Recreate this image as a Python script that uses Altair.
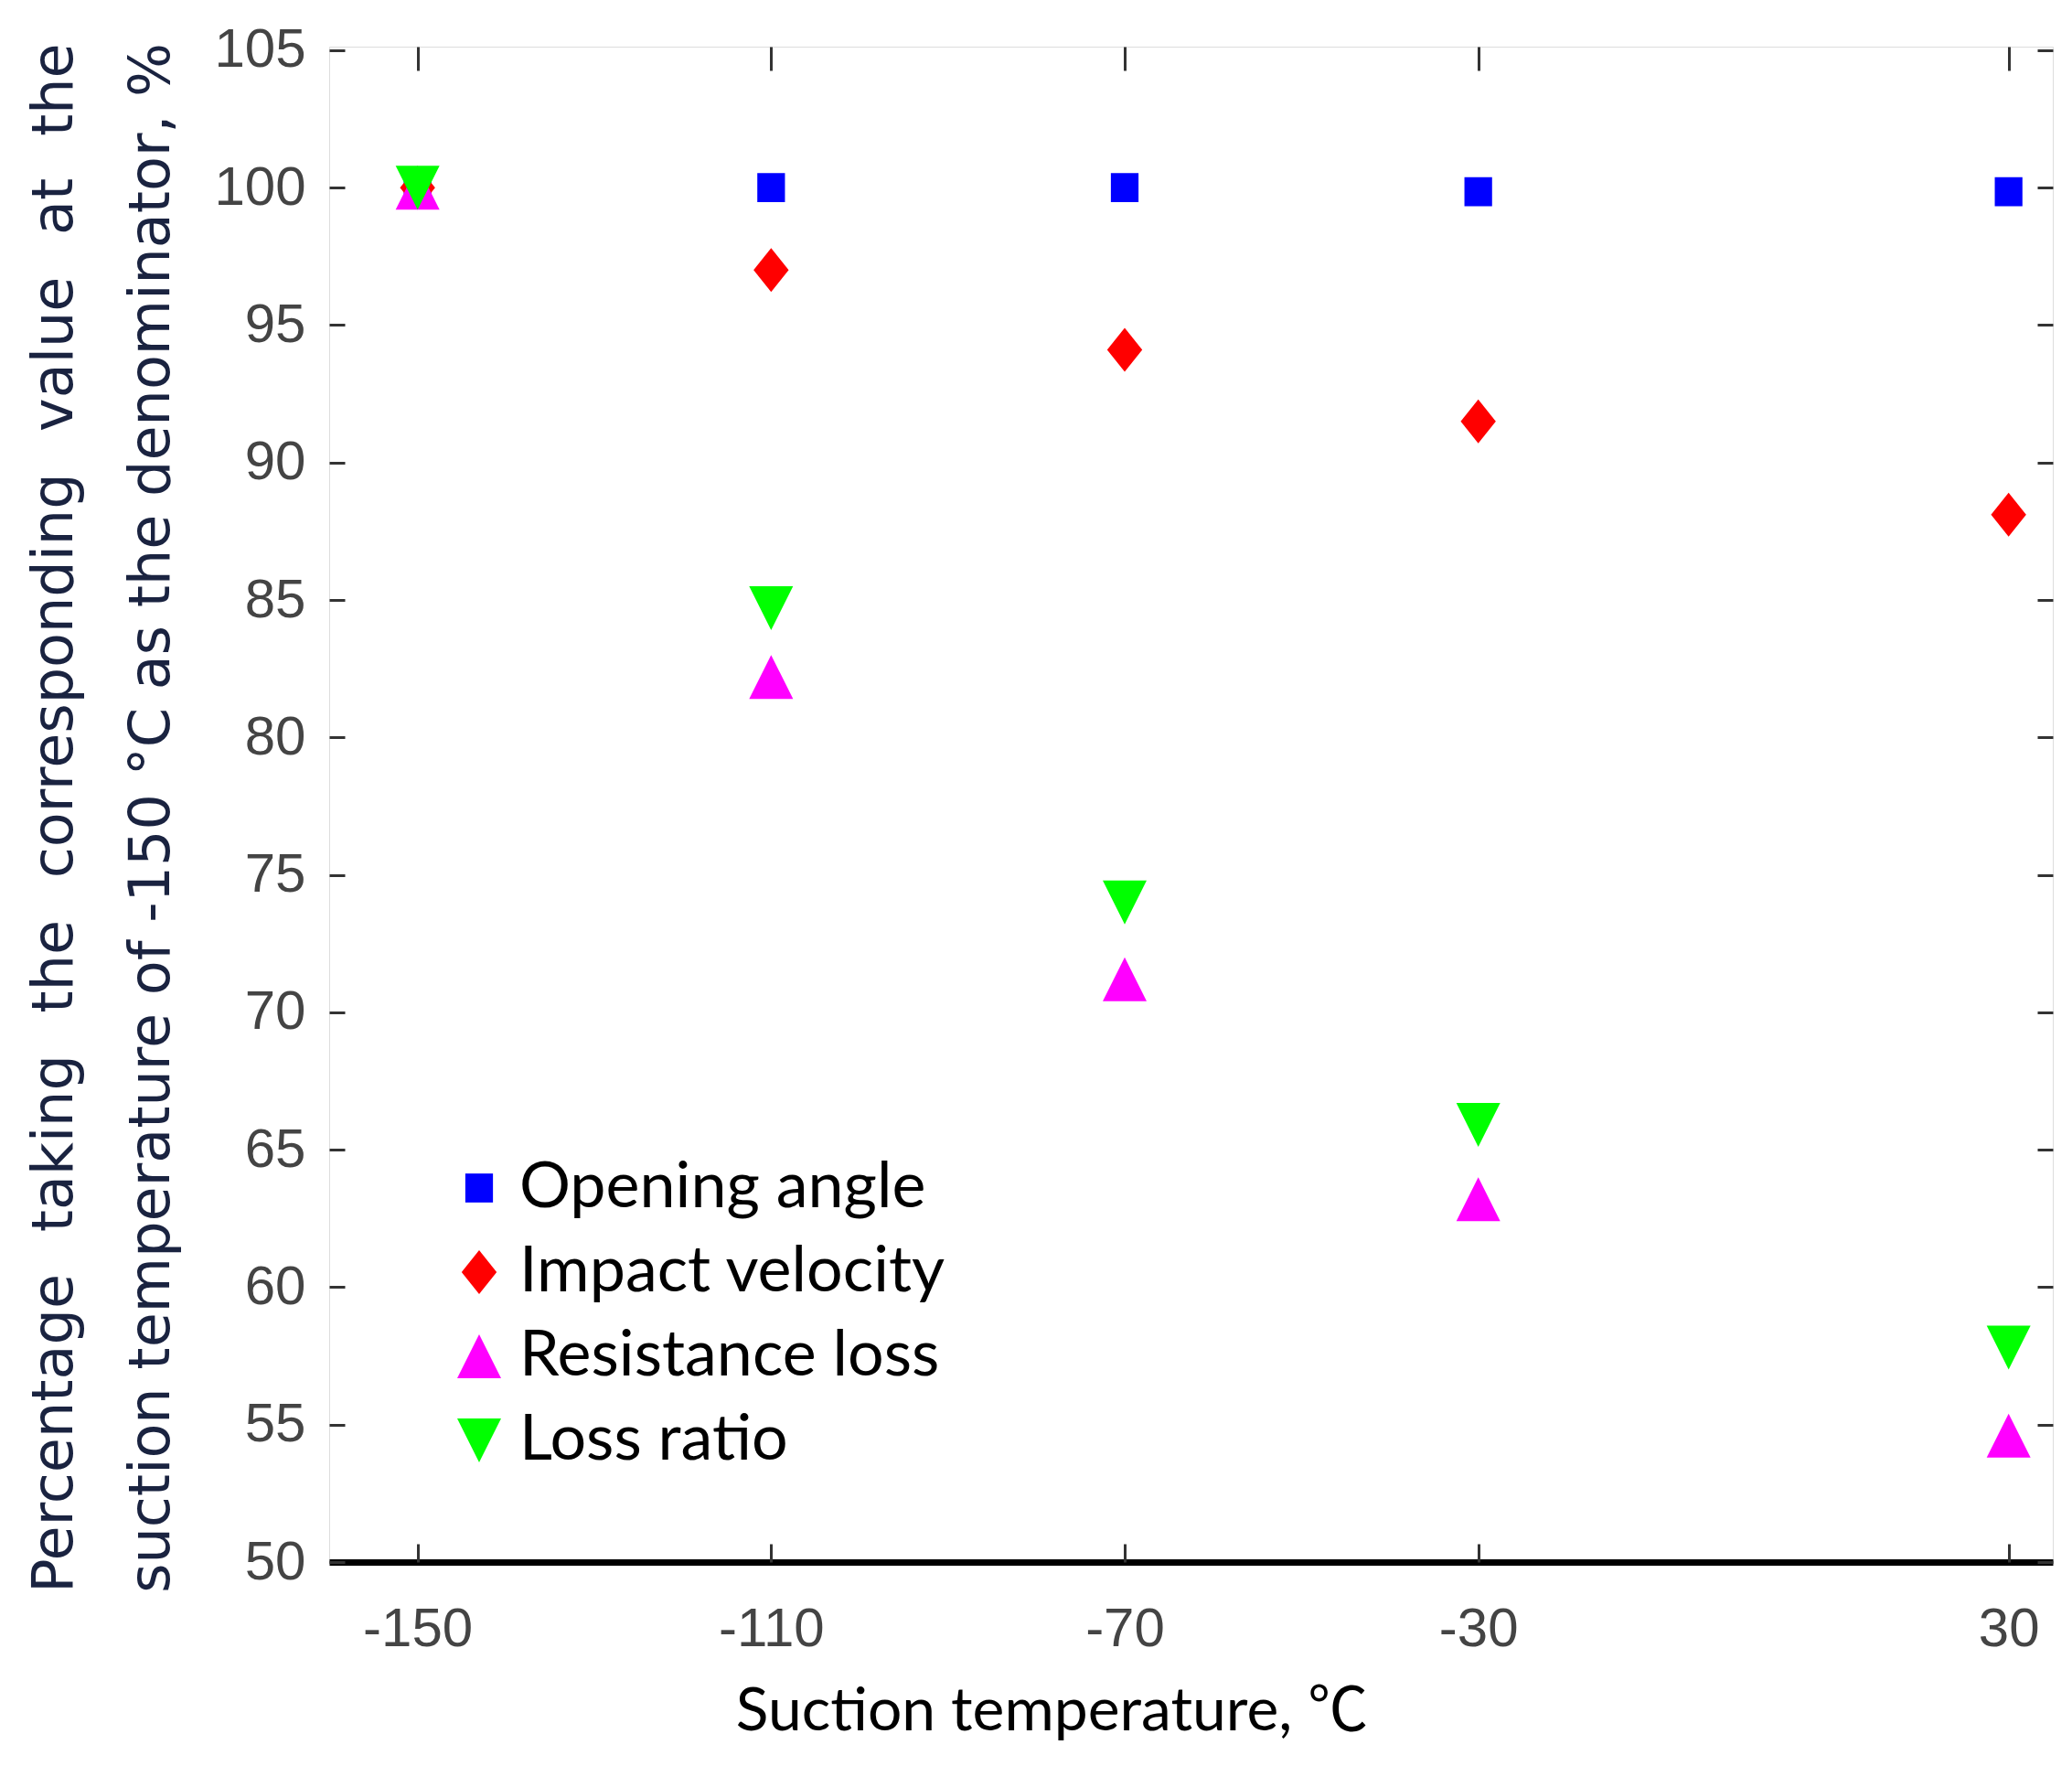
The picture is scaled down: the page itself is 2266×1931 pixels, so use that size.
import altair as alt
import pandas as pd

# ---- data ----
temperatures = [-150, -110, -70, -30, 30]
series_names = ["Opening angle", "Impact velocity", "Resistance loss", "Loss ratio"]
opening_angle = [100.0, 100.0, 100.0, 99.85, 99.85]
impact_velocity = [100.0, 97.0, 94.1, 91.5, 88.1]
resistance_loss = [100.0, 82.2, 71.2, 63.2, 54.6]
loss_ratio = [100.0, 84.7, 74.0, 65.9, 57.8]
x_ticks = [-150, -110, -70, -30, 30]
y_ticks = [50, 55, 60, 65, 70, 75, 80, 85, 90, 95, 100, 105]

rows = []
for name, vals in zip(series_names, [opening_angle, impact_velocity, resistance_loss, loss_ratio]):
    for t, v in zip(temperatures, vals):
        rows.append({"series": name, "temp": t, "pct": v})
df = pd.DataFrame(rows)

W, H = 1885, 1657
gap = "\u00a0\u00a0\u200a"
ytitle1 = gap.join(["Percentage", "taking", "the", "corresponding", "value", "at", "the"])
ytitle2 = "suction temperature of -150 °C as the denominator, %"

colors = ["#0000ff", "#ff0000", "#ff00ff", "#00ff00"]
shapes = [
    "M-0.63,-0.66L0.63,-0.66L0.63,0.66L-0.63,0.66Z",
    "M0,-1L0.8,0L0,1L-0.8,0Z",
    "M0,-1L1,1L-1,1Z",
    "M-1,-1L1,-1L0,1Z",
]

xscale = alt.Scale(domain=[-160, 35], nice=False, zero=False)
yscale = alt.Scale(domain=[50, 105.13], nice=False, zero=False)

legend = alt.Legend(
    title=None, orient="none", legendX=129, legendY=1213,
    labelFont="Lato", labelFontSize=70, labelColor="#000000", labelLimit=1000,
    symbolSize=2304, rowPadding=22, labelOffset=9, padding=0,
    symbolStrokeWidth=0,
)

color_enc = alt.Color("series:N", scale=alt.Scale(domain=series_names, range=colors), legend=legend)
shape_enc = alt.Shape("series:N", scale=alt.Scale(domain=series_names, range=shapes), legend=legend)

TICK_COLOR = "#333333"
LABEL_FONT = "Liberation Sans Narrow, Arial Narrow, Liberation Sans"

# main axes with labels and titles
x_main = alt.Axis(
    orient="bottom", values=x_ticks, ticks=False, tickSize=0, grid=False,
    labelExpr="'' + datum.value", labelFont=LABEL_FONT,
    labelFontSize=60, labelColor="#444444", labelPadding=44, labelBaseline="top",
    domain=True, domainColor="#000000", domainWidth=7,
    title="Suction temperature, ℃", titleFont="Lato, Noto Sans CJK SC", titleFontSize=66,
    titleFontWeight="normal", titleColor="#000000", titleX=790, titleY=183,
    titleBaseline="alphabetic", titleAlign="center",
)
y_main = alt.Axis(
    orient="left", values=y_ticks, ticks=False, tickSize=0, grid=False,
    labelFont=LABEL_FONT, labelFontSize=60,
    labelColor="#444444", labelPadding=26, domain=False,
    title=[ytitle1, ytitle2], titleFont="DejaVu Sans", titleFontSize=62,
    titleFontWeight="normal", titleColor="#1a2340", titleAngle=270,
    titleLineHeight=106, titleX=-282, titleY=843, titleBaseline="alphabetic",
    titleAlign="center",
)
# inward ticks: axes shifted onto the opposite edge
x_in_bottom = alt.Axis(orient="top", offset=-H, values=x_ticks, labels=False, domain=False,
                       grid=False, ticks=True, tickSize=20, tickWidth=3, tickColor=TICK_COLOR, title=None)
y_in_left = alt.Axis(orient="right", offset=-W, values=y_ticks, labels=False, domain=False,
                     grid=False, ticks=True, tickSize=17, tickWidth=3, tickColor=TICK_COLOR, title=None)
x_in_top = alt.Axis(orient="bottom", offset=-H, values=x_ticks, labels=False, domain=False,
                    grid=False, ticks=True, tickSize=26, tickWidth=3, tickColor=TICK_COLOR, title=None)
y_in_right = alt.Axis(orient="left", offset=-W, values=y_ticks, labels=False, domain=False,
                      grid=False, ticks=True, tickSize=17, tickWidth=3, tickColor=TICK_COLOR, title=None)

axes = [(x_main, y_main), (x_in_bottom, y_in_left), (x_in_top, y_in_right), (None, None)]

layers = []
for name, (xa, ya) in zip(series_names, axes):
    layer = alt.Chart(df).transform_filter(alt.datum.series == name).mark_point(
        filled=True, opacity=1, size=2304, strokeWidth=0
    ).encode(
        x=alt.X("temp:Q", scale=xscale, axis=xa),
        y=alt.Y("pct:Q", scale=yscale, axis=ya),
        color=color_enc,
        shape=shape_enc,
    )
    layers.append(layer)

chart = alt.layer(*layers).resolve_axis(x="independent", y="independent").properties(
    width=W, height=H,
    autosize=alt.AutoSizeParams(type="none"),
    padding={"left": 352, "top": 43, "right": 10, "bottom": 220},
).configure_view(
    stroke=TICK_COLOR, strokeWidth=4
).configure(background="white")

chart.save("out.html", embed_options={"renderer": "svg", "actions": False})
